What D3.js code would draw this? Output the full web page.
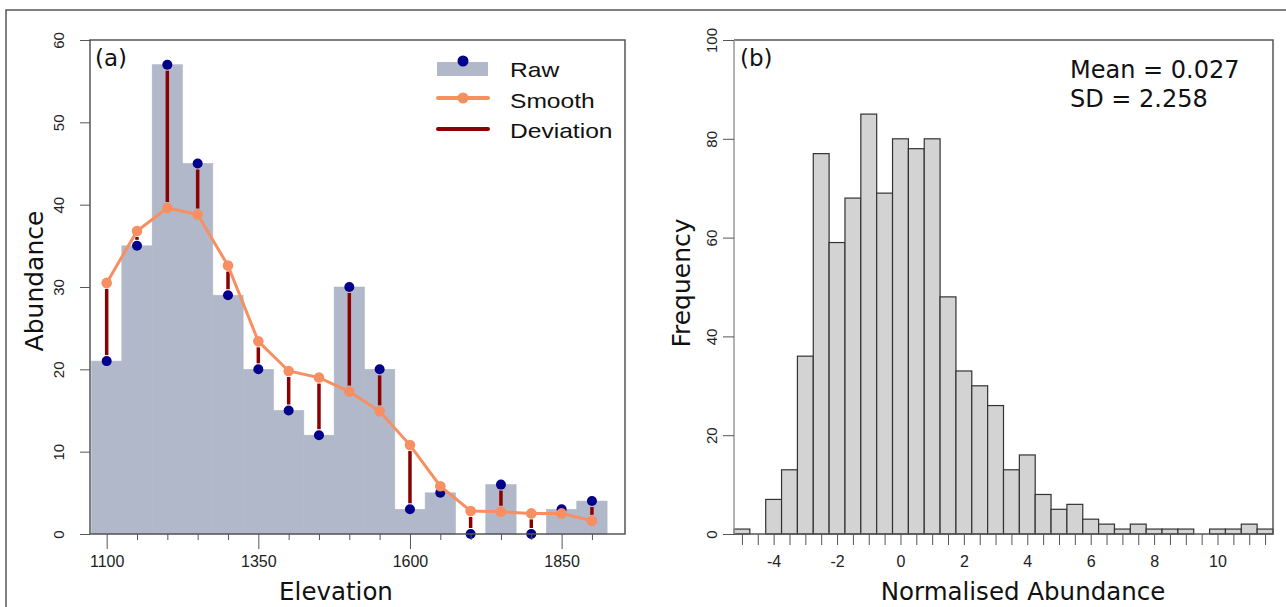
<!DOCTYPE html>
<html lang="en">
<head>
	<title>Abundance</title>
	<meta charset="utf-8">
	<script src="https://d3js.org/d3.v7.min.js" charset="utf-8"></script>
	<style>
	body { margin: 0; background: #fff; }
	.tick text { font-family: "Liberation Sans", Arial, sans-serif; fill: #222; }
	.tick line { stroke: #555; }
	.title { font-family: "DejaVu Sans", sans-serif; fill: #111; }
	</style>
</head>
<body>
	<script>
	// panel (a): raw vs smoothed abundance along elevation
	var elevation = [1100, 1150, 1200, 1250, 1300, 1350, 1400, 1450, 1500, 1550, 1600, 1650, 1700, 1750, 1800, 1850, 1900];
	var rawAbund = [21, 35, 57, 45, 29, 20, 15, 12, 30, 20, 3, 5, 0, 6, 0, 3, 4];
	var smoothAbund = [30.5, 36.8, 39.6, 38.8, 32.6, 23.4, 19.8, 19.0, 17.3, 14.9, 10.8, 5.8, 2.8, 2.7, 2.5, 2.5, 1.6];
	var elevTicks = [1100, 1350, 1600, 1850];
	var abundTicks = [0, 10, 20, 30, 40, 50, 60];
	var legendLabels = ["Raw", "Smooth", "Deviation"];

	// panel (b): histogram of normalised abundance (bins 0.5 wide)
	var binCentres = [-5, -4.5, -4, -3.5, -3, -2.5, -2, -1.5, -1, -0.5, 0, 0.5, 1, 1.5, 2, 2.5, 3, 3.5, 4, 4.5, 5, 5.5, 6, 6.5, 7, 7.5, 8, 8.5, 9, 9.5, 10, 10.5, 11, 11.5];
	var freq = [1, 0, 7, 13, 36, 77, 59, 68, 85, 69, 80, 78, 80, 48, 33, 30, 26, 13, 16, 8, 5, 6, 3, 2, 1, 2, 1, 1, 1, 0, 1, 1, 2, 1];
	var normTicks = [-4, -2, 0, 2, 4, 6, 8, 10];
	var freqTicks = [0, 20, 40, 60, 80, 100];
	var statsText = ["Mean = 0.027", "SD = 2.258"];
	var binWidth = 0.5;

	var width = 1286;
	var height = 607;

	var barCol = "#b0b8c9";
	var rawCol = "#00008b";
	var smoothCol = "#f88f62";
	var devCol = "#8b0000";

	var svg = d3.select('body')
	.append('svg')
	.attr('width', width)
	.attr('height', height);

	// outer frame (top + left only)
	svg.append("path")
	.attr("d", "M6,607V10H1286")
	.attr("fill", "none")
	.attr("stroke", "#555")
	.attr("stroke-width", 1.5);

	// ---------- panel (a) ----------
	var xA = d3.scaleLinear().domain([1072.5, 1954.5]).range([90, 625]);
	var yA = d3.scaleLinear().domain([0, 60]).range([534, 40]);

	var a = svg.append("g");

	a.selectAll("rect.bar")
	.data(elevation)
	.enter()
	.append("rect")
	.attr("class", "bar")
	.attr("x", d => xA(d - 25))
	.attr("width", d => xA(d + 25) - xA(d - 25))
	.attr("y", (d, i) => yA(rawAbund[i]))
	.attr("height", (d, i) => yA(0) - yA(rawAbund[i]))
	.attr("fill", barCol)
	.attr("stroke", barCol)
	.attr("stroke-width", 0.6);

	// deviation segments, pulled back from the point markers
	a.selectAll("line.dev")
	.data(elevation)
	.enter()
	.filter((d, i) => Math.abs(yA(rawAbund[i]) - yA(smoothAbund[i])) > 12)
	.append("line")
	.attr("class", "dev")
	.attr("x1", d => xA(d))
	.attr("x2", d => xA(d))
	.attr("y1", function (d) {
		var i = elevation.indexOf(d);
		var top = Math.min(yA(rawAbund[i]), yA(smoothAbund[i]));
		return top + 6;
	})
	.attr("y2", function (d) {
		var i = elevation.indexOf(d);
		var bot = Math.max(yA(rawAbund[i]), yA(smoothAbund[i]));
		return bot - 6;
	})
	.attr("stroke", devCol)
	.attr("stroke-width", 3.5);

	a.selectAll("circle.raw")
	.data(elevation)
	.enter()
	.append("circle")
	.attr("class", "raw")
	.attr("cx", d => xA(d))
	.attr("cy", (d, i) => yA(rawAbund[i]))
	.attr("r", 5)
	.attr("fill", rawCol);

	var smoothLine = d3.line()
	.x((d, i) => xA(elevation[i]))
	.y(d => yA(d));

	a.append("path")
	.datum(smoothAbund)
	.attr("d", smoothLine)
	.attr("fill", "none")
	.attr("stroke", smoothCol)
	.attr("stroke-width", 3);

	a.selectAll("circle.smooth")
	.data(smoothAbund)
	.enter()
	.append("circle")
	.attr("class", "smooth")
	.attr("cx", (d, i) => xA(elevation[i]))
	.attr("cy", d => yA(d))
	.attr("r", 5.3)
	.attr("fill", smoothCol);

	// box
	a.append("rect")
	.attr("x", 90).attr("y", 40)
	.attr("width", 535).attr("height", 494)
	.attr("fill", "none")
	.attr("stroke", "#555")
	.attr("stroke-width", 1.5);

	// axes
	var minorElev = d3.range(1100, 1901, 50).filter(d => elevTicks.indexOf(d) < 0);
	a.append("g")
	.attr("transform", "translate(0,534)")
	.call(d3.axisBottom(xA).tickValues(minorElev).tickSize(6).tickFormat(""))
	.call(g => g.select(".domain").remove());

	a.append("g")
	.attr("transform", "translate(0,534)")
	.call(d3.axisBottom(xA).tickValues(elevTicks).tickSize(15).tickPadding(7).tickFormat(d3.format("d")))
	.call(g => g.select(".domain").remove())
	.call(g => g.selectAll("text").style("font-size", "16px"));

	a.append("g")
	.attr("transform", "translate(90,0)")
	.call(d3.axisLeft(yA).tickValues(abundTicks).tickSize(10))
	.call(g => g.select(".domain").remove())
	.call(g => g.selectAll("text")
		.attr("x", 0).attr("dy", 0)
		.attr("text-anchor", "middle")
		.attr("transform", "translate(-26,0) rotate(-90)")
		.style("font-size", "15px"));

	a.append("text")
	.attr("class", "title")
	.attr("x", 336).attr("y", 600)
	.attr("text-anchor", "middle")
	.style("font-size", "24.5px")
	.text("Elevation");

	a.append("text")
	.attr("class", "title")
	.attr("transform", "translate(43,281) rotate(-90)")
	.attr("text-anchor", "middle")
	.style("font-size", "25px")
	.text("Abundance");

	a.append("text")
	.attr("class", "title")
	.attr("x", 95).attr("y", 66)
	.style("font-size", "23px")
	.text("(a)");

	// legend
	var leg = a.append("g");
	leg.append("rect")
	.attr("x", 437).attr("y", 62)
	.attr("width", 51).attr("height", 14)
	.attr("fill", barCol);
	leg.append("circle")
	.attr("cx", 463).attr("cy", 61).attr("r", 5.5)
	.attr("fill", rawCol);
	leg.append("line")
	.attr("x1", 438).attr("x2", 488).attr("y1", 98).attr("y2", 98)
	.attr("stroke", smoothCol).attr("stroke-width", 4)
	.attr("stroke-linecap", "round");
	leg.append("circle")
	.attr("cx", 463).attr("cy", 98).attr("r", 5.5)
	.attr("fill", smoothCol);
	leg.append("line")
	.attr("x1", 438).attr("x2", 488).attr("y1", 129).attr("y2", 129)
	.attr("stroke", devCol).attr("stroke-width", 4)
	.attr("stroke-linecap", "round");

	leg.selectAll("text")
	.data(legendLabels)
	.enter()
	.append("text")
	.attr("transform", (d, i) => "translate(510," + (77 + i * 30.5) + ") scale(1.2,1)")
	.style("font-family", "Liberation Sans, Arial, sans-serif")
	.style("font-size", "20.5px")
	.attr("fill", "#111")
	.text(d => d);

	// ---------- panel (b) ----------
	var xB = d3.scaleLinear().domain([-5.25, 11.75]).range([734, 1273]);
	var yB = d3.scaleLinear().domain([0, 100]).range([534, 40]);

	var b = svg.append("g");

	b.selectAll("rect.hist")
	.data(binCentres)
	.enter()
	.filter((d, i) => freq[i] > 0)
	.append("rect")
	.attr("class", "hist")
	.attr("x", d => xB(d - binWidth / 2))
	.attr("width", d => xB(d + binWidth / 2) - xB(d - binWidth / 2))
	.attr("y", d => yB(freq[binCentres.indexOf(d)]))
	.attr("height", d => yB(0) - yB(freq[binCentres.indexOf(d)]))
	.attr("fill", "#d3d3d3")
	.attr("stroke", "#333")
	.attr("stroke-width", 1.2);

	// box: left side is the lighter axis line
	b.append("path")
	.attr("d", "M734,40H1273V534H734")
	.attr("fill", "none")
	.attr("stroke", "#555")
	.attr("stroke-width", 1.5);
	b.append("line")
	.attr("x1", 734).attr("x2", 734).attr("y1", 40).attr("y2", 534)
	.attr("stroke", "#999")
	.attr("stroke-width", 1.5);

	b.append("g")
	.attr("transform", "translate(0,534)")
	.call(d3.axisBottom(xB).tickValues(binCentres).tickSize(11).tickFormat(""))
	.call(g => g.select(".domain").remove());

	b.append("g")
	.attr("transform", "translate(0,534)")
	.call(d3.axisBottom(xB).tickValues(normTicks).tickSize(0).tickPadding(22)
		.tickFormat(d => d < 0 ? "-" + Math.abs(d) : d))
	.call(g => g.select(".domain").remove())
	.call(g => g.selectAll("text").style("font-size", "16px"));

	b.append("g")
	.attr("transform", "translate(734,0)")
	.call(d3.axisLeft(yB).tickValues(freqTicks).tickSize(11))
	.call(g => g.select(".domain").remove())
	.call(g => g.selectAll("line").attr("stroke", "#999"))
	.call(g => g.selectAll("text")
		.attr("x", 0).attr("dy", 0)
		.attr("text-anchor", "middle")
		.attr("transform", "translate(-17,0) rotate(-90)")
		.style("font-size", "15px"));

	b.append("text")
	.attr("class", "title")
	.attr("x", 1023).attr("y", 600)
	.attr("text-anchor", "middle")
	.style("font-size", "24.5px")
	.text("Normalised Abundance");

	b.append("text")
	.attr("class", "title")
	.attr("transform", "translate(690,283) rotate(-90)")
	.attr("text-anchor", "middle")
	.style("font-size", "25px")
	.text("Frequency");

	b.append("text")
	.attr("class", "title")
	.attr("x", 740).attr("y", 66)
	.style("font-size", "23px")
	.text("(b)");

	b.selectAll("text.stat")
	.data(statsText)
	.enter()
	.append("text")
	.attr("class", "title stat")
	.attr("x", 1070)
	.attr("y", (d, i) => 78 + i * 29)
	.style("font-size", "24px")
	.text(d => d);

	</script>
</body>
</html>
